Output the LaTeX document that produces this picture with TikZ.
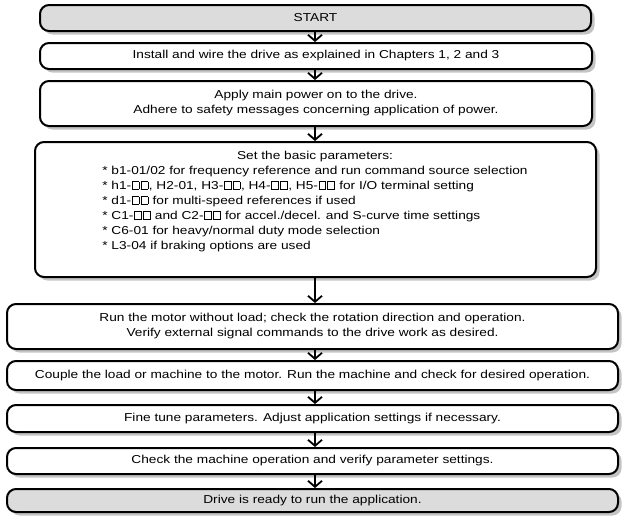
\documentclass[tikz,border=0pt]{standalone}
\usepackage{fontspec}
\setmainfont{Liberation Sans}[FakeStretch=1.19]
\newcommand{\onesq}{\kern0.6pt\vbox{\hrule height .7pt\hbox{\vrule width .7pt\vbox to 7pt{\vfil}\kern6.2pt\vrule width .7pt}\hrule height .7pt}\kern0.6pt}
\newcommand{\sqq}{\onesq\onesq}
\usetikzlibrary{arrows.meta,shadows}
\definecolor{startgray}{HTML}{DCDCDC}
\definecolor{shadowgray}{HTML}{C4C4C4}
\begin{document}
\begin{tikzpicture}[x=1pt,y=-1pt,
  font=\fontsize{11.5}{15}\selectfont,
  box/.style={draw=black, line width=2pt, rounded corners=9pt, fill=white,
    inner sep=0pt, align=center,
    drop shadow={shadow xshift=3.5pt, shadow yshift=-3.5pt, fill=shadowgray, opacity=1}},
  graybox/.style={box, fill=startgray},
  flow/.style={line width=1.8pt, -{Straight Barb[length=6pt,width=14pt]}}]
\useasboundingbox (0,0) rectangle (623,515);
\coordinate (ax) at (315,0);
\node[graybox, minimum width=551pt, minimum height=26pt] (start) at (315.5,18) {START};
\node[box, minimum width=552pt, minimum height=26pt] (install) at (316,56)
  {Install and wire the drive as explained in Chapters 1, 2 and 3};
\node[box, minimum width=552pt, minimum height=45pt] (apply) at (316,103.5)
  {Apply main power on to the drive.\\Adhere to safety messages concerning application of power.};
\node[box, minimum width=561pt, minimum height=135pt] (params) at (315.5,209.5) {};
\node[anchor=north, align=center, inner sep=0pt] (ptext) at (315,151)
  {Set the basic parameters:\\
   \begin{tabular}[t]{@{}l@{}}
   {*} b1-01/02 for frequency reference and run command source selection\\
   {*} h1-\sqq, H2-01, H3-\sqq, H4-\sqq, H5-\sqq{} for I/O terminal setting\\
   {*} d1-\sqq{} for multi-speed references if used\\
   {*} C1-\sqq{} and C2-\sqq{} for accel./decel. and S-curve time settings\\
   {*} C6-01 for heavy/normal duty mode selection\\
   {*} L3-04 if braking options are used
   \end{tabular}};
\node[box, minimum width=611pt, minimum height=45pt] (run) at (312.5,326.5)
  {Run the motor without load; check the rotation direction and operation.\\Verify external signal commands to the drive work as desired.};
\node[box, minimum width=611pt, minimum height=29pt] (couple) at (312.5,375.5)
  {Couple the load or machine to the motor. Run the machine and check for desired operation.};
\node[box, minimum width=611pt, minimum height=27pt] (fine) at (312.5,418.5)
  {Fine tune parameters. Adjust application settings if necessary.};
\node[box, minimum width=611pt, minimum height=26pt] (check) at (312.5,461)
  {Check the machine operation and verify parameter settings.};
\node[graybox, minimum width=611pt, minimum height=23pt] (drive) at (312.5,500.5)
  {Drive is ready to run the application.};
\draw[flow] (start.south -| ax) -- (install.north -| ax);
\draw[flow] (install.south -| ax) -- (apply.north -| ax);
\draw[flow] (apply.south -| ax) -- (params.north -| ax);
\draw[flow] (params.south -| ax) -- (run.north -| ax);
\draw[flow] (run.south -| ax) -- (couple.north -| ax);
\draw[flow] (couple.south -| ax) -- (fine.north -| ax);
\draw[flow] (fine.south -| ax) -- (check.north -| ax);
\draw[flow] (check.south -| ax) -- (drive.north -| ax);
\end{tikzpicture}
\end{document}
